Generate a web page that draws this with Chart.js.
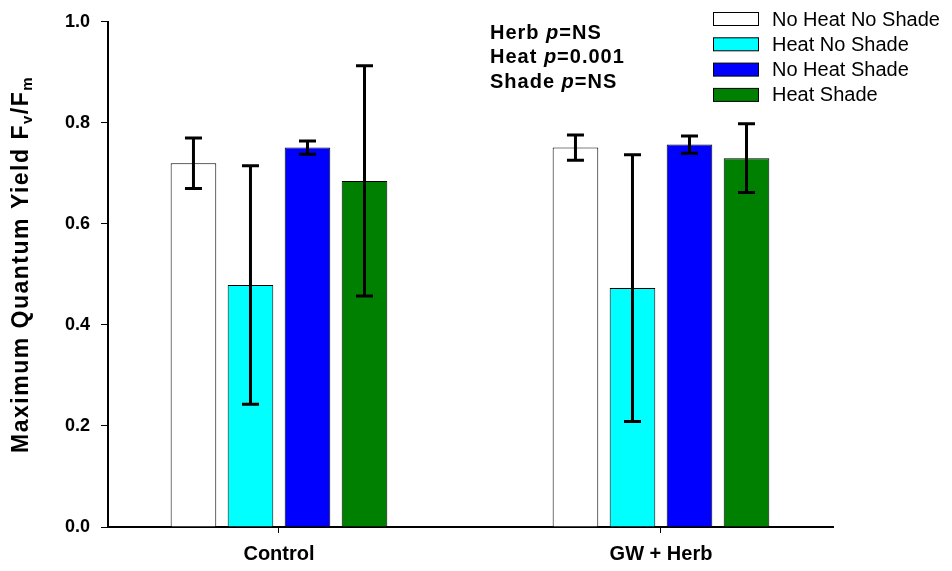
<!DOCTYPE html>
<html>
<head>
<meta charset="utf-8">
<script src="https://cdn.jsdelivr.net/npm/chart.js@4"></script>
<style>
  body { margin: 0; background: #fff; }
  #wrap { width: 952px; height: 571px; position: relative; }
</style>
</head>
<body>
<div id="wrap"><canvas id="yieldChart"></canvas></div>
<script>
// Data
const categories = ['Control', 'GW + Herb'];
const seriesLabels = ['No Heat No Shade', 'Heat No Shade', 'No Heat Shade', 'Heat Shade'];
const noHeatNoShade = [0.720, 0.751];
const heatNoShade = [0.479, 0.473];
const noHeatShade = [0.751, 0.757];
const heatShade = [0.685, 0.730];
const noHeatNoShadeErr = [0.050, 0.025];
const heatNoShadeErr = [0.236, 0.264];
const noHeatShadeErr = [0.013, 0.017];
const heatShadeErr = [0.228, 0.068];
const yTicks = [0, 0.2, 0.4, 0.6, 0.8, 1.0];
const statLines = [['Herb ', 'p', '=NS'], ['Heat ', 'p', '=0.001'], ['Shade ', 'p', '=NS']];

const FONT = "'Liberation Sans', Arial, sans-serif";
const colors = ['#ffffff', '#00ffff', '#0000ff', '#008000'];
const values = [noHeatNoShade, heatNoShade, noHeatShade, heatShade];
const errors = [noHeatNoShadeErr, heatNoShadeErr, noHeatShadeErr, heatShadeErr];

const datasets = seriesLabels.map((label, i) => ({
    label: label,
    data: values[i].map((v, j) => ({ x: j, y: v })),
    errors: errors[i],
    backgroundColor: colors[i],
    borderColor: '#000',
    borderWidth: 1,
    categoryPercentage: 0.597,
    barPercentage: 0.80
}));

// Error bars
const errorBars = {
    id: 'errorBars',
    afterDatasetsDraw(chart) {
        const ctx = chart.ctx;
        const y = chart.scales.y;
        ctx.save();
        ctx.strokeStyle = '#000';
        ctx.lineWidth = 3;
        chart.data.datasets.forEach((ds, i) => {
            chart.getDatasetMeta(i).data.forEach((bar, j) => {
                const v = ds.data[j].y, e = ds.errors[j];
                const top = y.getPixelForValue(v + e);
                const bot = y.getPixelForValue(v - e);
                ctx.beginPath();
                ctx.moveTo(bar.x, top); ctx.lineTo(bar.x, bot);
                ctx.moveTo(bar.x - 8.5, top); ctx.lineTo(bar.x + 8.5, top);
                ctx.moveTo(bar.x - 8.5, bot); ctx.lineTo(bar.x + 8.5, bot);
                ctx.stroke();
            });
        });
        ctx.restore();
    }
};

// Y title with subscripts, legend, and stats text
const decorations = {
    id: 'decorations',
    afterDraw(chart) {
        const ctx = chart.ctx;
        const area = chart.chartArea;
        ctx.save();

        // y-axis title
        ctx.translate(22, (area.top + area.bottom) / 2 - 10);
        ctx.rotate(-Math.PI / 2);
        ctx.letterSpacing = '1.5px';
        const big = 'bold 23px ' + FONT, small = 'bold 15px ' + FONT;
        const parts = [['Maximum Quantum Yield F', big, 0], ['v', small, 6], ['/F', big, 0], ['m', small, 6]];
        let total = 0;
        parts.forEach(p => { ctx.font = p[1]; total += ctx.measureText(p[0]).width; });
        let x = -total / 2;
        ctx.fillStyle = '#000';
        ctx.textBaseline = 'middle';
        parts.forEach(p => {
            ctx.font = p[1];
            ctx.fillText(p[0], x, p[2]);
            x += ctx.measureText(p[0]).width;
        });
        ctx.restore();

        // stats text
        ctx.save();
        ctx.fillStyle = '#000';
        ctx.textBaseline = 'middle';
        ctx.letterSpacing = '1px';
        statLines.forEach((line, i) => {
            let sx = 490;
            const sy = 33 + i * 24.5;
            line.forEach((t, k) => {
                ctx.font = (k === 1 ? 'italic bold 20px ' : 'bold 20px ') + FONT;
                ctx.fillText(t, sx, sy);
                sx += ctx.measureText(t).width;
            });
        });
        ctx.letterSpacing = '0px';

        // legend
        ctx.font = '20px ' + FONT;
        chart.data.datasets.forEach((ds, i) => {
            const ly = 19 + i * 25.3;
            ctx.fillStyle = ds.backgroundColor;
            ctx.fillRect(713, ly - 6.5, 45, 13);
            ctx.strokeStyle = '#000';
            ctx.lineWidth = 1;
            ctx.strokeRect(713.5, ly - 6.5, 45, 13);
            ctx.fillStyle = '#000';
            ctx.fillText(ds.label, 772, ly + 1);
        });
        ctx.restore();
    }
};

new Chart(document.getElementById('yieldChart'), {
    type: 'bar',
    data: { datasets: datasets },
    options: {
        responsive: true,
        maintainAspectRatio: false,
        animation: false,
        layout: { padding: { left: 0, top: 19, right: 119, bottom: 0 } },
        plugins: {
            legend: { display: false },
            tooltip: { enabled: false }
        },
        scales: {
            x: {
                type: 'linear',
                offset: false,
                min: -0.4476,
                max: 1.4503,
                afterBuildTicks: scale => { scale.ticks = categories.map((c, i) => ({ value: i })); },
                afterFit: scale => { scale.height = 44; },
                grid: { display: true, offset: false, drawOnChartArea: false, drawTicks: true, tickLength: 6, color: '#000', lineWidth: 1 },
                border: { display: true, color: '#000', width: 2 },
                ticks: {
                    color: '#000',
                    font: { family: FONT, size: 20, weight: 'bold' },
                    padding: 9,
                    maxRotation: 0,
                    callback: v => categories[v]
                }
            },
            y: {
                min: 0,
                max: 1,
                afterBuildTicks: scale => { scale.ticks = yTicks.map(v => ({ value: v })); },
                afterFit: scale => { scale.width = 108; },
                grid: { display: true, drawOnChartArea: false, drawTicks: true, tickLength: 7, color: '#000', lineWidth: 1 },
                border: { display: true, color: '#000', width: 2 },
                ticks: {
                    color: '#000',
                    font: { family: FONT, size: 18, weight: 'bold' },
                    padding: 11,
                    callback: v => v.toFixed(1)
                }
            }
        }
    },
    plugins: [errorBars, decorations]
});
</script>
</body>
</html>
